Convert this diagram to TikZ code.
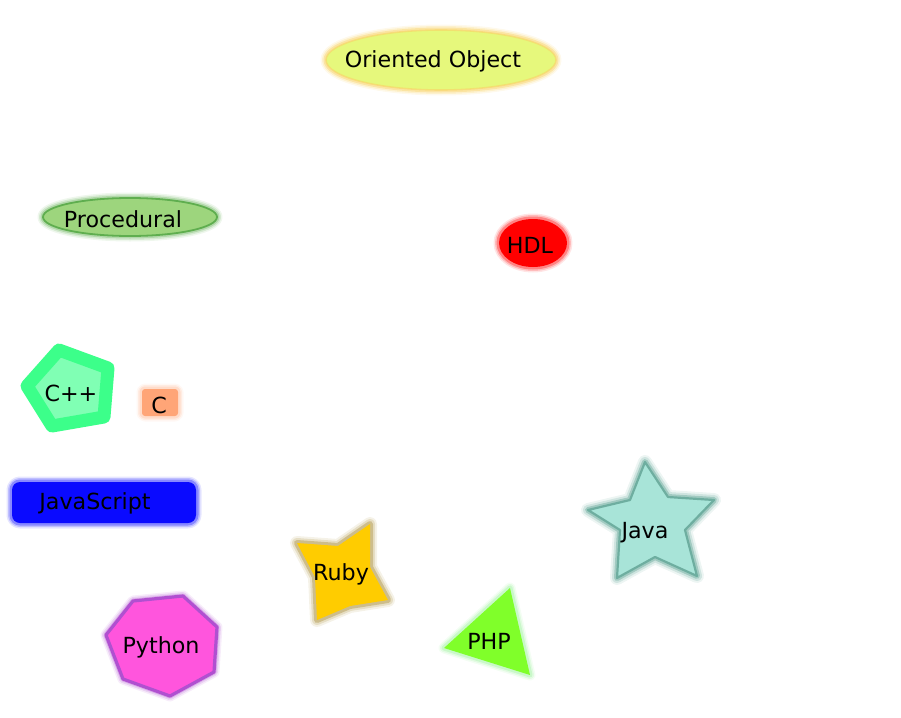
\documentclass[tikz,border=0pt]{standalone}
\usepackage{fontspec}
\setmainfont{DejaVu Sans}
\tikzset{
  px/.style={x=0.5pt,y=-0.5pt},
  lbl/.style={inner sep=0pt, font=\fontsize{11.1}{13}\selectfont},
  glow/.style={preaction={draw=#1, line width=5.5pt, opacity=0.10, line join=round},
               preaction={draw=#1, line width=4pt, opacity=0.18, line join=round},
               preaction={draw=#1, line width=2.5pt, opacity=0.30, line join=round}},
  bigglow/.style={preaction={draw=#1, line width=7pt, opacity=0.10, line join=round},
               preaction={draw=#1, line width=5pt, opacity=0.18, line join=round},
               preaction={draw=#1, line width=3pt, opacity=0.35, line join=round}},
}
\definecolor{ooFill}{HTML}{E6F87C}
\definecolor{ooEdge}{HTML}{F7C840}
\definecolor{prFill}{HTML}{9DD57D}
\definecolor{prEdge}{HTML}{5FAE4F}
\definecolor{cppEdge}{HTML}{3CFF8A}
\definecolor{cppFill}{HTML}{80FFB4}
\definecolor{cFill}{HTML}{FFA577}
\definecolor{jsFill}{HTML}{0A0AFF}
\definecolor{rbFill}{HTML}{FFCC00}
\definecolor{rbEdge}{HTML}{A08020}
\definecolor{pyFill}{HTML}{FF55DD}
\definecolor{pyEdge}{HTML}{B050D0}
\definecolor{phpFill}{HTML}{80FF2A}
\definecolor{phpEdge}{HTML}{90F090}
\definecolor{jvFill}{HTML}{A8E4D8}
\definecolor{jvEdge}{HTML}{4A9A88}
\begin{document}
\begin{tikzpicture}[px]
\useasboundingbox (0,0) rectangle (901,718);
% Oriented Object
\fill[ooFill, glow=ooEdge] (441,60) ellipse [x radius=115, y radius=30];
\draw[ooEdge!80, line width=0.8pt, opacity=0.6] (441,60) ellipse [x radius=115, y radius=30];
\node[lbl] (oo) at (433,61) {Oriented Object};
% Procedural
\fill[prFill, glow=prEdge] (130,217) ellipse [x radius=87, y radius=19];
\draw[prEdge, line width=0.9pt] (130,217) ellipse [x radius=87, y radius=19];
\node[lbl] (proc) at (123,219.5) {Procedural};
% HDL
\fill[red, glow=red] (533,243) ellipse [x radius=34, y radius=24];
\node[lbl] (hdl) at (530,245.5) {HDL};
% C++
\filldraw[fill=cppFill, draw=cppEdge, line width=6.5pt, line join=round, glow=cppEdge]
  (59,350) -- (108,368) -- (104,417) -- (52,426) -- (27,386) -- cycle;
\node[lbl] (cpp) at (71,393) {C++};
% C
\fill[cFill, glow=cFill!80, rounded corners=1.5pt] (142,389) rectangle (178,416);
\node[lbl] (c) at (159,405) {C};
% JavaScript
\fill[jsFill, glow=jsFill, rounded corners=4pt] (12,482) rectangle (196,523);
\node[lbl] (js) at (95,503) {JavaScript};
% Ruby
\fill[rbFill, bigglow=rbEdge]
  (297,543) -- (338,546) -- (370,524) -- (370,567) -- (388,600) -- (350,606)
  -- (317,620) -- (315,577) -- cycle;
\node[lbl] (ruby) at (341,574) {Ruby};
% Python
\filldraw[fill=pyFill, draw=pyEdge, line width=1.6pt, line join=round, glow=pyEdge]
  (133,601) -- (183,596) -- (217,627) -- (214,672) -- (170,696) -- (123,679) -- (106,635) -- cycle;
\node[lbl] (py) at (161,647) {Python};
% PHP
\fill[phpFill, glow=phpEdge] (510,588) -- (530,675) -- (444,648) -- cycle;
\node[lbl] (php) at (489,641) {PHP};
% Java
\filldraw[fill=jvFill, draw=jvEdge!80, line width=1.1pt, line join=round, bigglow=jvEdge]
  (645,462) -- (668,497) -- (714,500) -- (685,530) -- (697,576) -- (655,557)
  -- (617,578) -- (620,530) -- (588,510) -- (630,500) -- cycle;
\node[lbl] (java) at (645,533) {Java};
\end{tikzpicture}
\end{document}
